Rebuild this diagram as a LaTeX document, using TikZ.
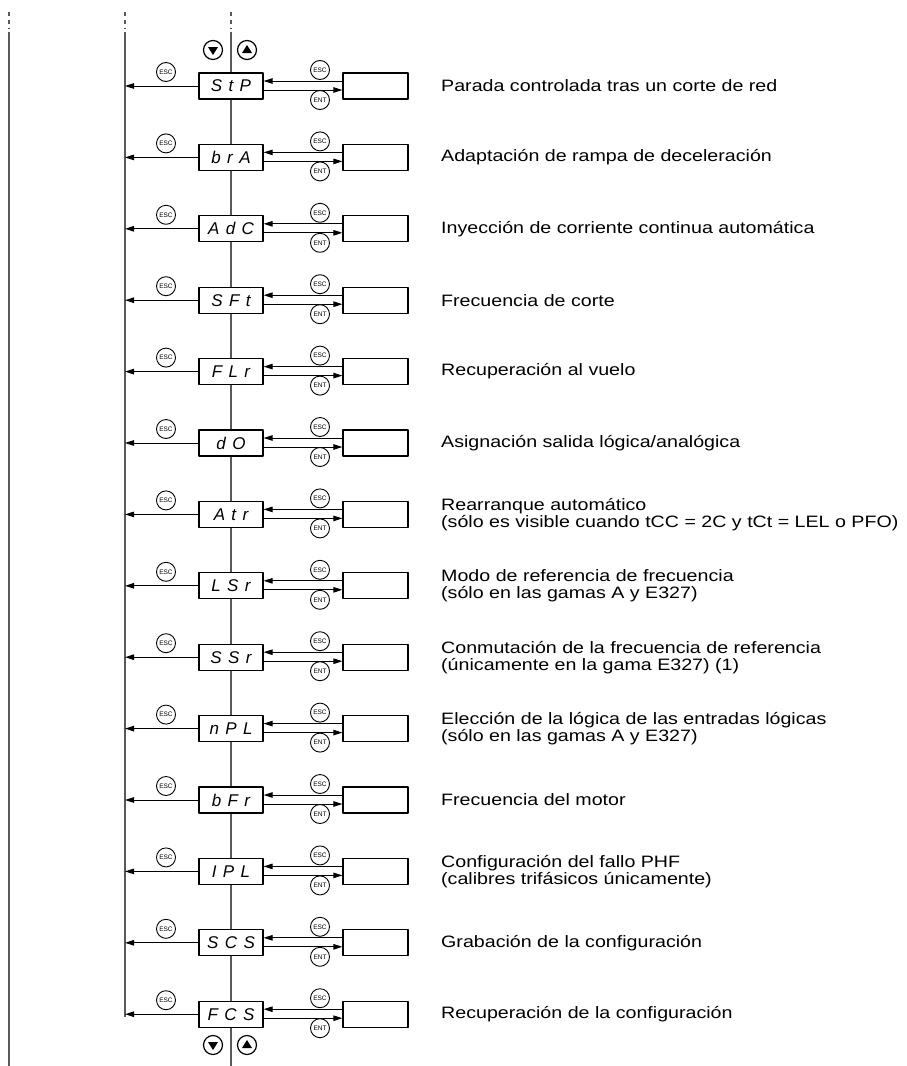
\documentclass[tikz,border=0pt]{standalone}
\usepackage{fontspec}
\setmainfont{Liberation Sans}
\newfontfamily\descfont{Liberation Sans}[FakeStretch=1.19]
\newfontfamily\dispfont{Liberation Sans}[WordSpace=1.35]
\usetikzlibrary{arrows.meta}

\begin{document}
\begin{tikzpicture}[x=1pt,y=-1pt,>={Triangle[length=9pt,width=5.5pt]},line join=round]
  \tikzset{
    disp/.style={draw, line width=1.2pt, minimum width=64pt, minimum height=26pt, inner sep=0pt, fill=white, font=\dispfont\fontsize{17}{17}\selectfont\itshape},
    parbox/.style={draw, line width=1.2pt, minimum width=65pt, minimum height=26pt, inner sep=0pt, fill=white},
    keyesc/.style={draw, circle, line width=0.9pt, minimum size=19pt, inner sep=0pt, fill=white, font=\fontsize{6.5}{7}\selectfont},
    keyarr/.style={draw, circle, line width=1.2pt, minimum size=19pt, inner sep=0pt},
    desc/.style={anchor=west, align=left, inner sep=0pt, font=\descfont\fontsize{16.5}{17}\selectfont},
    rail/.style={black!65, line width=1.1pt},
    link/.style={line width=1pt},
  }
  \useasboundingbox (0,0) rectangle (907,1066);

  % 1. rails
  \coordinate (railL) at (9,32);
  \coordinate (railM) at (125,32);
  \coordinate (railC) at (231,32);
  \foreach \x in {9,125,231}
    \draw[rail, dash pattern=on 4pt off 4pt] (\x,12) -- (\x,29);
  \draw[rail] (railL) -- (9,1066);
  \draw[rail] (railM) -- (125,1017);
  \draw[rail] (railC) -- (231,1066);

  % 2. up / down keys
  \foreach \n/\y in {top/50,bot/1045} {
    \node[keyarr] (dn\n) at (213,\y) {};
    \node[keyarr] (up\n) at (247,\y) {};
    \fill ([shift={(-5pt,3pt)}]dn\n.center) -- ++(10pt,0) -- ++(-5pt,-8pt) -- cycle;
    \fill ([shift={(-5pt,-3pt)}]up\n.center) -- ++(10pt,0) -- ++(-5pt,8pt) -- cycle;
  }

  % 3. parameter rows
  \foreach [count=\i] \code/\txt in {
      {S t P}/{Parada controlada tras un corte de red},
      {b r A}/{Adaptación de rampa de deceleración},
      {A d C}/{Inyección de corriente continua automática},
      {S F t}/{Frecuencia de corte},
      {F L r}/{Recuperación al vuelo},
      {d O}/{Asignación salida lógica/analógica},
      {A t r}/{Rearranque automático\\(sólo es visible cuando tCC = 2C y tCt = LEL o PFO)},
      {L S r}/{Modo de referencia de frecuencia\\(sólo en las gamas A y E327)},
      {S S r}/{Conmutación de la frecuencia de referencia\\(únicamente en la gama E327) (1)},
      {n P L}/{Elección de la lógica de las entradas lógicas\\(sólo en las gamas A y E327)},
      {b F r}/{Frecuencia del motor},
      {I P L}/{Configuración del fallo PHF\\(calibres trifásicos únicamente)},
      {S C S}/{Grabación de la configuración},
      {F C S}/{Recuperación de la configuración}} {
    \pgfmathsetmacro\yc{86+(\i-1)*71.4}
    \node[disp] (disp\i) at (231,\yc) {\code};
    \node[parbox] (par\i) at (375.5,\yc) {};
    \node[desc] (txt\i) at (441,\yc) {\txt};
    \draw[link,->] ([yshift=5pt]par\i.west) -- ([yshift=5pt]disp\i.east);
    \draw[link,->] ([yshift=-4pt]disp\i.east) -- ([yshift=-4pt]par\i.west);
    \draw[link,->] (disp\i.west) -- (disp\i.west -| railM);
    \node[keyesc] (escR\i) at (320,\yc-16) {ESC};
    \node[keyesc] (ent\i) at (320,\yc+14) {ENT};
    \node[keyesc] (escL\i) at (166,\yc-14) {ESC};
  }

\end{tikzpicture}
\end{document}
